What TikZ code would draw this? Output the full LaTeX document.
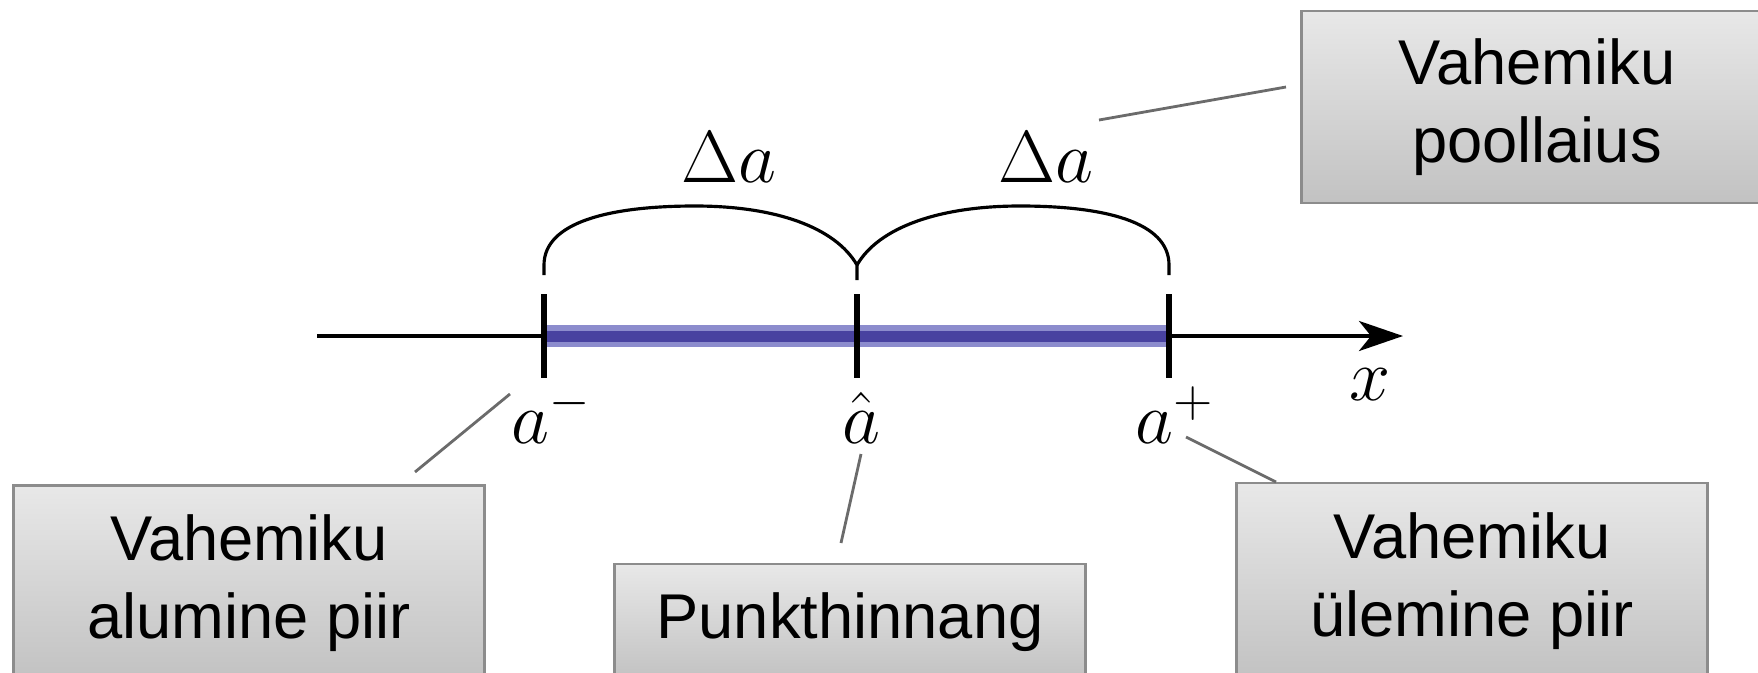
\RequirePackage{fix-cm}
\documentclass[tikz,border=0pt]{standalone}
\usepackage[no-math]{fontspec}
\newfontfamily\boxfont{Liberation Sans}
\usepackage{xcolor}
\usetikzlibrary{arrows.meta,positioning,calc}

\definecolor{barout}{RGB}{140,140,205}
\definecolor{barin}{RGB}{72,66,160}

\begin{document}
\begin{tikzpicture}[
  >={Stealth[length=4.4mm, width=3mm, inset=1.2mm]},
  mathlbl/.style={font=\fontsize{21}{25}\selectfont, inner sep=0pt},
  callout/.style={
    draw=black!45, line width=0.8pt,
    top color=black!9, bottom color=black!24,
    align=center, font=\boxfont\fontsize{18}{22.2}\selectfont,
    minimum width=4.71cm, inner sep=0pt
  },
  pointer/.style={draw=black!58, line width=0.8pt},
  axis/.style={line width=1.1pt, black},
  tickmark/.style={line width=1.7pt, black},
  brace/.style={line width=0.9pt, black},
  bar/.style={line width=0.22cm, barout}
]
  \useasboundingbox (0,0) rectangle (17.58,6.72);
  \clip (0,0) rectangle (17.58,6.72);

  % axis and interval
  \coordinate (xs) at (3.17,3.36);
  \coordinate (xe) at (14.03,3.36);
  \draw[axis,->] (xs) -- (xe);
  \foreach \n/\x in {lo/5.44, mid/8.57, hi/11.69}
    \coordinate (\n) at (\x,3.36);
  \draw[bar] (lo) -- (hi);
  \draw[line width=0.11cm, barin] (lo) -- (hi);
  \foreach \n in {lo, mid, hi}
    \draw[tickmark] ([yshift=0.42cm]\n) -- ([yshift=-0.42cm]\n);

  % braces
  \draw[brace] (5.44,3.97) -- (5.44,4.07)
    .. controls (5.44,4.5) and (6.1,4.66) .. (6.95,4.66)
    .. controls (7.75,4.66) and (8.35,4.45) .. (8.57,4.07) -- (8.57,3.92);
  \draw[brace] (8.57,4.07)
    .. controls (8.79,4.45) and (9.4,4.66) .. (10.2,4.66)
    .. controls (11.05,4.66) and (11.69,4.5) .. (11.69,4.07) -- (11.69,3.97);

  \node[mathlbl, anchor=base] (dl) at (7.29,4.90) {$\Delta a$};
  \node[mathlbl, anchor=base] (dr) at (10.46,4.90) {$\Delta a$};
  \node[mathlbl, anchor=base] (lab-lo) at (5.51,2.29) {$a^-$};
  \node[mathlbl, anchor=base] (lab-mid) at (8.61,2.29) {$\hat{a}$};
  \node[mathlbl, anchor=base] (lab-hi) at (11.75,2.29) {$a^+$};
  \node[mathlbl, anchor=base] (lab-x) at (13.70,2.72) {$x$};

  % callouts
  \node[callout, minimum height=1.92cm] (radbox) at (15.37,5.65)
    {Vahemiku\\poollaius};
  \node[callout, minimum height=1.95cm] (lowbox) at (2.49,0.89)
    {Vahemiku\\alumine piir};
  \node[callout, minimum height=1.16cm] (estbox) at (8.50,0.50)
    {Punkthinnang};
  \node[callout, minimum height=1.97cm] (upbox) at (14.72,0.905)
    {Vahemiku\\ülemine piir};

  \coordinate (p1) at (10.99,5.52);
  \coordinate (q1) at (12.86,5.85);
  \coordinate (p2) at (5.10,2.78);
  \coordinate (q2) at (4.15,2.00);
  \coordinate (p3) at (8.61,2.18);
  \coordinate (q3) at (8.41,1.29);
  \coordinate (p4) at (11.86,2.35);
  \coordinate (q4) at (12.76,1.90);
  \foreach \a/\b in {p1/q1, p2/q2, p3/q3, p4/q4}
    \draw[pointer] (\a) -- (\b);
\end{tikzpicture}
\end{document}
